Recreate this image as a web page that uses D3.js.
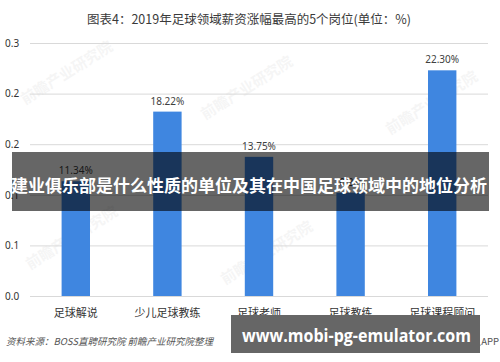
<!DOCTYPE html>
<html>
<head>
<meta charset="utf-8">
<script src="https://cdn.jsdelivr.net/npm/d3@7"></script>
<style>
  body { margin: 0; background: #fff; }
  svg { display: block; font-family: "Noto Sans CJK SC", "Noto Sans", sans-serif; }
</style>
</head>
<body>
<div id="vis"></div>
<script>
'use strict';

// Chart data
const categories = ["足球解说", "少儿足球教练", "足球老师", "足球教练", "足球课程顾问"];
const values = [0.1134, 0.1822, 0.1375, 0.1021, 0.2230];
const valueLabels = ["11.34%", "18.22%", "13.75%", "10.21%", "22.30%"];
const yTicks = [0, 0.05, 0.10, 0.15, 0.20, 0.25];
const yTickLabels = ["0.0", "0.1", "0.1", "0.2", "0.2", "0.3"];

const titleText = "图表4：2019年足球领域薪资涨幅最高的5个岗位(单位：%)";
const sourceText = "资料来源：BOSS直聘研究院 前瞻产业研究院整理";
const bannerText = "建业俱乐部是什么性质的单位及其在中国足球领域中的地位分析";
const siteText = "www.mobi-pg-emulator.com";

const constraints = {
    width: 500,
    height: 362,
    plot: {left: 30, right: 488, top: 43, bottom: 296}
};

const svg = d3.select("#vis").append("svg")
    .attr("width", constraints.width)
    .attr("height", constraints.height);

const x = d3.scaleBand()
    .domain(categories)
    .range([constraints.plot.left, constraints.plot.right])
    .paddingInner(0.69)
    .paddingOuter(0.345);

const y = d3.scaleLinear()
    .domain([0, 0.25])
    .range([constraints.plot.bottom, constraints.plot.top]);

// Title
svg.append("text")
    .attr("x", 249)
    .attr("y", 24)
    .attr("text-anchor", "middle")
    .style("font-size", "12.5px")
    .style("fill", "#3a3a3a")
    .text(titleText);

// Faint watermarks
const marks = [[25, 105], [205, 120], [390, 135], [30, 270], [225, 285]];
svg.append("g")
    .selectAll("text")
    .data(marks)
    .enter()
    .append("text")
        .attr("transform", (d) => "translate(" + d[0] + "," + d[1] + ")rotate(-32)")
        .style("font-size", "15px")
        .style("font-weight", "bold")
        .style("fill", "#000")
        .style("opacity", 0.035)
        .text("前瞻产业研究院");

// Grid + y axis
const yAxis = svg.append("g")
    .attr("transform", "translate(" + constraints.plot.left + ",0)")
    .call(d3.axisLeft(y)
        .tickValues(yTicks)
        .tickSize(-(constraints.plot.right - constraints.plot.left))
        .tickFormat((d, i) => yTickLabels[i]));
yAxis.select(".domain").remove();
yAxis.selectAll(".tick line").attr("stroke", "#d9d9d9");
yAxis.selectAll(".tick text")
    .attr("x", -25)
    .attr("text-anchor", "start")
    .style("font-size", "10px")
    .style("fill", "#333")
    .style("font-family", "'Noto Sans', sans-serif");

// Bars
svg.append("g")
    .selectAll("rect")
    .data(values)
    .enter()
    .append("rect")
        .attr("x", (d, i) => x(categories[i]))
        .attr("y", (d) => y(d))
        .attr("width", x.bandwidth())
        .attr("height", (d) => y(0) - y(d))
        .attr("fill", "#3f86e0");

// Value labels
svg.append("g")
    .selectAll("text")
    .data(values)
    .enter()
    .append("text")
        .attr("x", (d, i) => x(categories[i]) + x.bandwidth() / 2)
        .attr("y", (d) => y(d) - 7)
        .attr("text-anchor", "middle")
        .style("font-size", "10px")
        .style("fill", "#404040")
        .style("font-family", "'Noto Sans', sans-serif")
        .text((d, i) => valueLabels[i]);

// Category labels
const xAxis = svg.append("g")
    .attr("transform", "translate(0," + constraints.plot.bottom + ")")
    .call(d3.axisBottom(x).tickSize(0).tickPadding(13));
xAxis.select(".domain").remove();
xAxis.selectAll(".tick text")
    .style("font-size", "11px")
    .style("fill", "#333")
    .style("font-family", "'Noto Sans CJK SC', sans-serif");

// Source line
svg.append("text")
    .attr("x", 6)
    .attr("y", 345)
    .style("font-size", "9.5px")
    .style("font-style", "italic")
    .style("fill", "#555")
    .text(sourceText);
svg.append("text")
    .attr("x", 499)
    .attr("y", 345)
    .attr("text-anchor", "end")
    .style("font-size", "9.5px")
    .style("fill", "#555")
    .text("@前瞻经济学人APP");

// Overlay banner
svg.append("rect")
    .attr("x", 12)
    .attr("y", 152)
    .attr("width", 477)
    .attr("height", 59)
    .attr("fill", "rgba(0,0,0,0.6)");
svg.append("text")
    .attr("x", 249)
    .attr("y", 192)
    .attr("text-anchor", "middle")
    .style("font-size", "17px")
    .style("font-weight", "bold")
    .style("fill", "#fff")
    .text(bannerText);

// Site box
svg.append("rect")
    .attr("x", 231)
    .attr("y", 315)
    .attr("width", 249)
    .attr("height", 38)
    .attr("fill", "#666");
svg.append("text")
    .attr("x", 242)
    .attr("y", 342)
    .attr("textLength", 229)
    .attr("lengthAdjust", "spacingAndGlyphs")
    .style("font-size", "18px")
    .style("font-weight", "bold")
    .style("fill", "#fff")
    .style("font-family", "'Open Sans', 'Noto Sans', sans-serif")
    .text(siteText);
</script>
</body>
</html>
